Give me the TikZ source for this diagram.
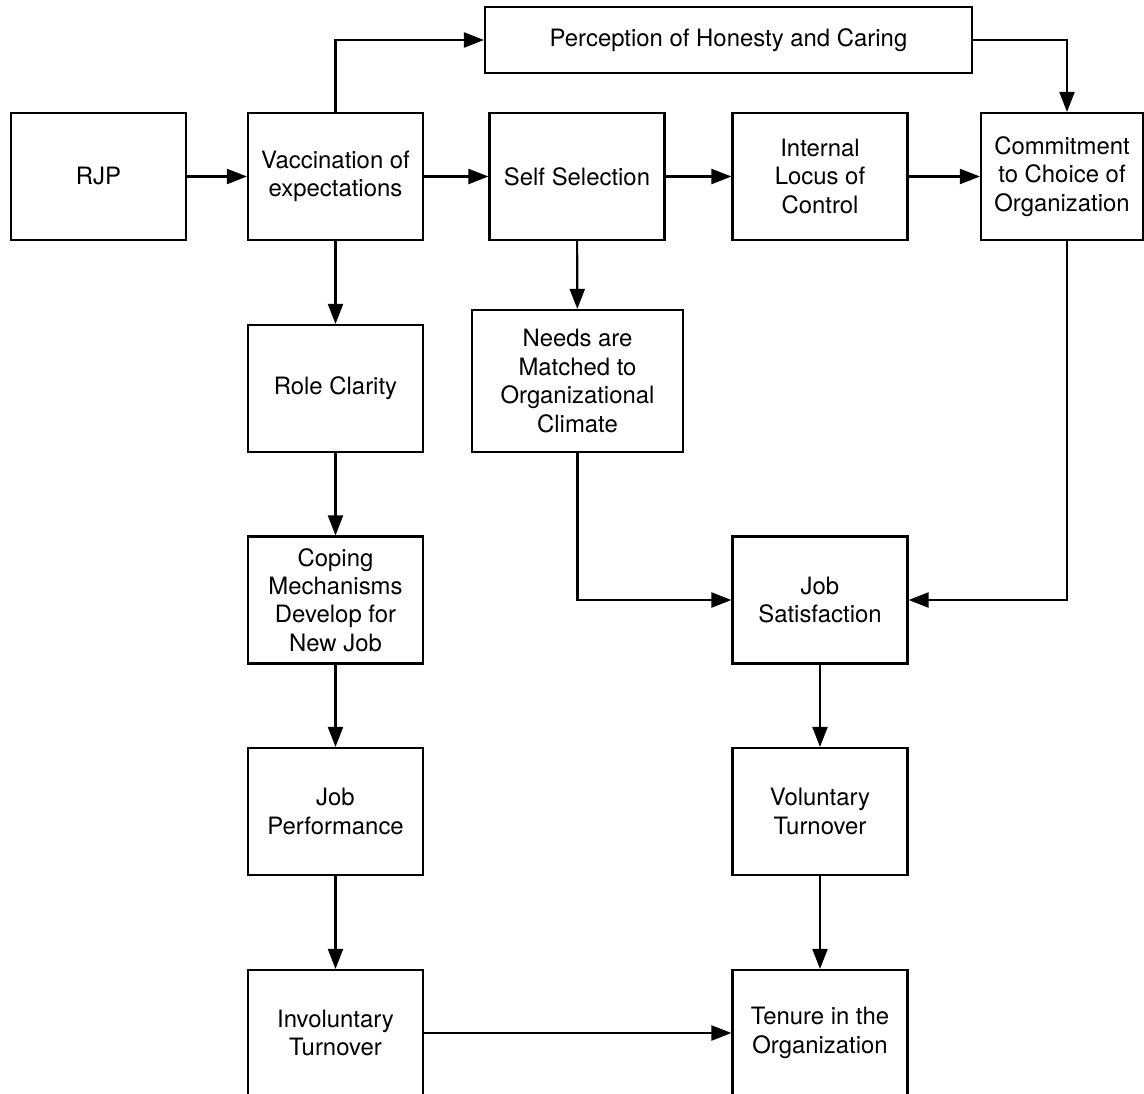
\documentclass[tikz,border=0pt]{standalone}
\usepackage{fontspec}
\setmainfont{TeX Gyre Heros}
\usetikzlibrary{arrows.meta}

\begin{document}
\begin{tikzpicture}[>={Triangle[length=0.4cm,width=0.3cm]}]
  \tikzset{
    box/.style={draw,line width=1.2pt,align=center,inner sep=0pt,
      minimum width=3.5cm,minimum height=2.54cm,
      font=\fontsize{13.6}{16.2}\selectfont},
    flow/.style={->,line width=1.2pt}
  }
  \useasboundingbox (0,0) rectangle (22.88,-21.88);

  \node[box,minimum width=9.74cm,minimum height=1.32cm] (perc) at (14.57,-0.80) {Perception of Honesty and Caring};

  \node[box] (rjp)      at (1.97,-3.53)  {RJP};
  \node[box] (vacc)     at (6.71,-3.53)  {Vaccination of\\expectations};
  \node[box] (selfsel)  at (11.54,-3.53) {Self Selection};
  \node[box] (locus)    at (16.40,-3.53) {Internal\\Locus of\\Control};
  \node[box,minimum width=3.24cm] (commit) at (21.24,-3.53) {Commitment\\to Choice of\\Organization};

  \node[box] (role)     at (6.71,-7.77)  {Role Clarity};
  \node[box,minimum width=4.22cm,minimum height=2.84cm] (needs) at (11.55,-7.62) {Needs are\\Matched to\\Organizational\\Climate};

  \node[box] (coping)   at (6.71,-12.0)  {Coping\\Mechanisms\\Develop for\\New Job};
  \node[box] (jobsat)   at (16.40,-12.0) {Job\\Satisfaction};

  \node[box] (jobperf)  at (6.71,-16.23) {Job\\Performance};
  \node[box] (voluntary) at (16.40,-16.23) {Voluntary\\Turnover};

  \node[box,minimum height=2.52cm] (invol)  at (6.71,-20.66)  {Involuntary\\Turnover};
  \node[box,minimum height=2.52cm] (tenure) at (16.40,-20.66) {Tenure in the\\Organization};

  \draw[flow] (rjp) -- (vacc);
  \draw[flow] (vacc) -- (selfsel);
  \draw[flow] (selfsel) -- (locus);
  \draw[flow] (locus) -- (commit);
  \draw[flow] (vacc.north) |- (perc.west);
  \draw[flow] (perc.east) -| ([xshift=0.1cm]commit.north);

  \draw[flow] (vacc) -- (role);
  \draw[flow] (role) -- (coping);
  \draw[flow] (coping) -- (jobperf);
  \draw[flow] (jobperf) -- (invol);

  \draw[flow] (selfsel) -- (needs);
  \draw[flow] (needs.south) |- (jobsat.west);
  \draw[flow] ([xshift=0.1cm]commit.south) |- (jobsat.east);
  \draw[flow] (jobsat) -- (voluntary);
  \draw[flow] (voluntary) -- (tenure);
  \draw[flow] (invol) -- (tenure);
\end{tikzpicture}
\end{document}
